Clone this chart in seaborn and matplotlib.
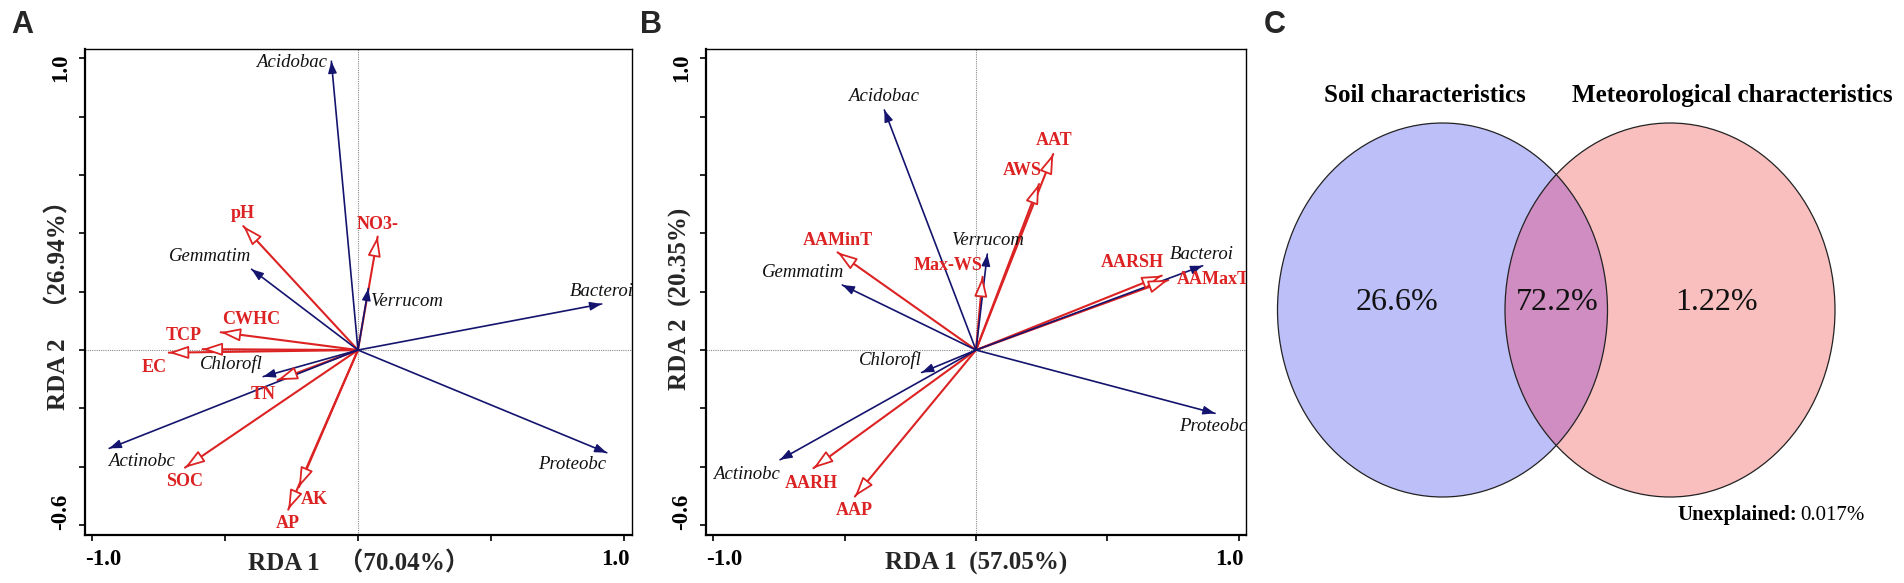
import numpy as np
import pandas as pd
import matplotlib
matplotlib.use("Agg")
import matplotlib.pyplot as plt
import seaborn as sns
from matplotlib.patches import Ellipse
from matplotlib.transforms import ScaledTranslation

# ---------------- data ----------------
# Panel A (soil characteristics RDA)
a_species = ["Acidobac", "Gemmatim", "Verrucom", "Chlorofl", "Actinobc", "Bacteroi", "Proteobc"]
a_species_x = [-0.100, -0.400, 0.039, -0.356, -0.935, 0.916, 0.935]
a_species_y = [0.990, 0.277, 0.211, -0.091, -0.337, 0.158, -0.352]
a_env = ["pH", "NO3-", "CWHC", "TCP", "EC", "TN", "SOC", "AK", "AP"]
a_env_x = [-0.431, 0.074, -0.516, -0.584, -0.711, -0.302, -0.650, -0.222, -0.262]
a_env_y = [0.425, 0.389, 0.061, 0.003, -0.009, -0.103, -0.403, -0.470, -0.547]
a_xlabel = "RDA 1   （70.04%）"
a_ylabel = "RDA 2   （26.94%）"

# Panel B (meteorological characteristics RDA)
b_species = ["Acidobac", "Gemmatim", "Verrucom", "Chlorofl", "Actinobc", "Bacteroi", "Proteobc"]
b_species_x = [-0.349, -0.509, 0.043, -0.207, -0.746, 0.863, 0.910]
b_species_y = [0.823, 0.223, 0.329, -0.077, -0.376, 0.289, -0.217]
b_env = ["AAMinT", "Max-WS", "AWS", "AAT", "AARSH", "AAMaxT", "AARH", "AAP"]
b_env_x = [-0.527, 0.025, 0.240, 0.294, 0.707, 0.732, -0.619, -0.461]
b_env_y = [0.335, 0.251, 0.569, 0.672, 0.255, 0.240, -0.405, -0.502]
b_xlabel = "RDA 1  (57.05%)"
b_ylabel = "RDA 2  (20.35%)"

x_ticks = [-1.0, -0.5, 0.0, 0.5, 1.0]
x_ticklabels = ["-1.0", "", "", "", "1.0"]
y_ticks = [-0.6, -0.4, -0.2, 0.0, 0.2, 0.4, 0.6, 0.8, 1.0]
y_ticklabels = ["-0.6", "", "", "", "", "", "", "", "1.0"]

# Panel C (variation partitioning)
venn_sets = ["Soil characteristics", "Meteorological characteristics"]
venn_values = ["26.6%", "72.2%", "1.22%"]
unexplained = "0.017%"

# ---------------- layout / style ----------------
a_species_lab = [(-0.248, 0.987, "center"), (-0.554, 0.322, "center"), (0.046, 0.166, "left"),
                 (-0.475, -0.049, "center"), (-0.813, -0.383, "center"), (0.916, 0.200, "center"),
                 (0.807, -0.394, "center")]
a_env_lab = [(-0.431, 0.469, "center"), (0.074, 0.432, "center"), (-0.403, 0.105, "center"),
             (-0.656, 0.051, "center"), (-0.765, -0.061, "center"), (-0.356, -0.152, "center"),
             (-0.653, -0.451, "center"), (-0.165, -0.511, "center"), (-0.262, -0.593, "center")]
b_species_lab = [(-0.353, 0.868, "center"), (-0.660, 0.265, "center"), (0.043, 0.375, "center"),
                 (-0.327, -0.034, "center"), (-0.873, -0.425, "center"), (0.861, 0.329, "center"),
                 (0.903, -0.263, "center")]
b_env_lab = [(-0.526, 0.377, "center"), (-0.108, 0.289, "center"), (0.178, 0.617, "center"),
             (0.298, 0.718, "center"), (0.597, 0.301, "center"), (0.764, 0.242, "left"),
             (-0.628, -0.456, "center"), (-0.464, -0.551, "center")]

NAVY = "#14146e"
RED = "#dc2222"
SERIF = ["Liberation Serif", "Noto Sans CJK SC", "DejaVu Serif"]

sns.set_theme(style="white")
plt.rcParams["font.family"] = SERIF

W, H = 1904, 583
fig = plt.figure(figsize=(W / 100, H / 100), dpi=100)


def fx(px):
    return px / W


def fy(py):
    return 1 - py / H


def rda_panel(rect, xlim, ylim, sp, spx, spy, splab, env, ex, ey, elab, xlabel, ylabel):
    ax = fig.add_axes(rect)
    ax.set_xlim(*xlim)
    ax.set_ylim(*ylim)
    ax.axhline(0, color="#8a8a8a", lw=0.8, ls=(0, (1, 1)), zorder=0)
    ax.axvline(0, color="#8a8a8a", lw=0.8, ls=(0, (1, 1)), zorder=0)

    rows = []
    for n, x, y in zip(sp, spx, spy):
        rows += [dict(name=n, kind="species", x=0.0, y=0.0), dict(name=n, kind="species", x=x, y=y)]
    for n, x, y in zip(env, ex, ey):
        rows += [dict(name="env_" + n, kind="env", x=0.0, y=0.0), dict(name="env_" + n, kind="env", x=x, y=y)]
    df = pd.DataFrame(rows)
    sns.lineplot(data=df[df.kind == "env"], x="x", y="y", units="name", estimator=None, sort=False,
                 color=RED, lw=1.5, ax=ax, legend=False, zorder=2)
    sns.lineplot(data=df[df.kind == "species"], x="x", y="y", units="name", estimator=None, sort=False,
                 color=NAVY, lw=1.2, ax=ax, legend=False, zorder=3)

    o = ax.transData.transform((0, 0))

    def head(x, y, ls, fc, ec, lw, hl, hw, z):
        t = ax.transData.transform((x, y))
        d = (t - o) / np.hypot(*(t - o))
        base = ax.transData.inverted().transform(t - d * ls)
        ax.annotate("", xy=(x, y), xytext=base, zorder=z, annotation_clip=False,
                    arrowprops=dict(arrowstyle=f"-|>,head_length={hl},head_width={hw}",
                                    fc=fc, ec=ec, lw=lw, shrinkA=0, shrinkB=0))

    for x, y in zip(ex, ey):
        head(x, y, 18, "white", RED, 1.3, 1.0, 0.33, 4)
    for x, y in zip(spx, spy):
        head(x, y, 12, NAVY, NAVY, 1.0, 0.6, 0.22, 5)

    for n, (lx, ly, ha) in zip(sp, splab):
        ax.text(lx, ly, n, ha=ha, va="center", fontsize=13.5, style="italic",
                family=SERIF, color="#111111", zorder=6, clip_on=True)
    for n, (lx, ly, ha) in zip(env, elab):
        ax.text(lx, ly, n, ha=ha, va="center", fontsize=13, weight="bold",
                family=SERIF, color=RED, zorder=6, clip_on=True)

    ax.set_xticks(x_ticks)
    ax.set_xticklabels(x_ticklabels)
    ax.set_yticks(y_ticks)
    ax.set_yticklabels(y_ticklabels, rotation=90, va="center")
    ax.tick_params(axis="both", which="both", direction="out", length=4, width=1.2,
                   bottom=True, left=True, top=False, right=False, colors="black", pad=6)
    for lbl in ax.get_xticklabels() + ax.get_yticklabels():
        lbl.set_fontfamily(SERIF)
        lbl.set_fontweight("bold")
        lbl.set_fontsize(16.5)
    xl = ax.get_xticklabels()
    xl[0].set_transform(xl[0].get_transform() + ScaledTranslation(11 / 100, 0, fig.dpi_scale_trans))
    xl[-1].set_transform(xl[-1].get_transform() + ScaledTranslation(-9 / 100, 0, fig.dpi_scale_trans))
    yl = ax.get_yticklabels()
    yl[0].set_transform(yl[0].get_transform() + ScaledTranslation(0, 13 / 100, fig.dpi_scale_trans))
    yl[-1].set_transform(yl[-1].get_transform() + ScaledTranslation(0, -9.5 / 100, fig.dpi_scale_trans))

    ax.set_xlabel(xlabel, fontsize=18, weight="bold", family=SERIF)
    ax.set_ylabel(ylabel, fontsize=18, weight="bold", family=SERIF)
    ax.xaxis.label.set_va("center")
    ax.yaxis.label.set_va("center")
    ax.xaxis.set_label_coords(0.5, -0.058)
    ax.yaxis.set_label_coords(-0.048, 0.485)

    for s in ["top", "right", "bottom", "left"]:
        ax.spines[s].set_visible(True)
        ax.spines[s].set_color("black")
    ax.spines["left"].set_linewidth(1.6)
    ax.spines["bottom"].set_linewidth(1.6)
    ax.spines["top"].set_linewidth(1.0)
    ax.spines["right"].set_linewidth(1.0)
    ax.grid(False)
    return ax


ylim = (-0.634, 1.032)
axA = rda_panel([fx(85), fy(535), fx(632) - fx(85), fy(49) - fy(535)], (-1.026, 1.030), ylim,
                a_species, a_species_x, a_species_y, a_species_lab,
                a_env, a_env_x, a_env_y, a_env_lab, a_xlabel, a_ylabel)
axB = rda_panel([fx(706), fy(535), fx(1246) - fx(706), fy(49) - fy(535)], (-1.028, 1.028), ylim,
                b_species, b_species_x, b_species_y, b_species_lab,
                b_env, b_env_x, b_env_y, b_env_lab, b_xlabel, b_ylabel)

# ---------------- panel C: Venn ----------------
axC = fig.add_axes([fx(1260), 0, fx(1904) - fx(1260), 1])
axC.set_xlim(1260, 1904)
axC.set_ylim(583, 0)
axC.axis("off")
left = Ellipse((1442.5, 310), 330, 374, fc="#bdbff9", ec="none", zorder=1)
right = Ellipse((1670, 310), 330, 374, fc="#f9bebe", ec="none", zorder=1)
axC.add_patch(left)
axC.add_patch(right)
mid = Ellipse((1670, 310), 330, 374, fc="#cf8dc2", ec="none", zorder=2)
axC.add_patch(mid)
mid.set_clip_path(left)
for c in [(1442.5, 310), (1670, 310)]:
    axC.add_patch(Ellipse(c, 330, 374, fc="none", ec="#222222", lw=0.9, zorder=3))

for xpos, v in zip([1397, 1557, 1717], venn_values):
    axC.text(xpos, 302, v, ha="center", va="center", fontsize=23, family=SERIF, color="#111111", zorder=4)
axC.text(1425, 102, venn_sets[0], ha="center", va="baseline", fontsize=18, weight="bold",
         family=SERIF, color="black")
axC.text(1572, 102, venn_sets[1], ha="left", va="baseline", fontsize=18, weight="bold",
         family=SERIF, color="black")
axC.text(1797, 520, "Unexplained:", ha="right", va="baseline", fontsize=15, weight="bold",
         family=SERIF, color="black")
axC.text(1800, 520, unexplained, ha="left", va="baseline", fontsize=15, family=SERIF, color="black")

# panel letters
for lx, letter in [(22, "A"), (651, "B"), (1275, "C")]:
    fig.text(fx(lx), fy(25), letter, ha="center", va="center", fontsize=22, weight="bold",
             family=["Liberation Sans", "DejaVu Sans"])

fig.savefig("out.png", dpi=100, facecolor="white")
